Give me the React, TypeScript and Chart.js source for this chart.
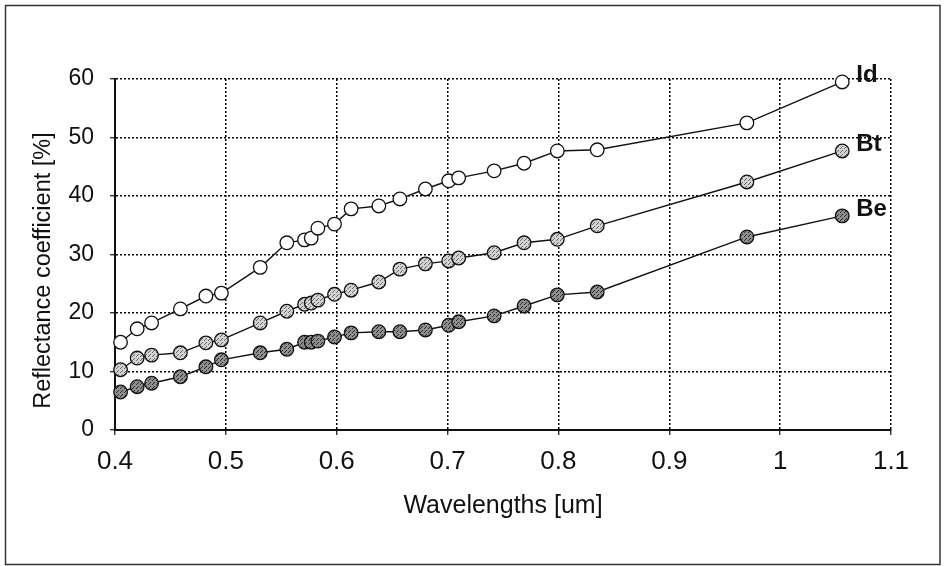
import React, { useEffect, useRef } from "react";
import { Chart, registerables } from "chart.js";

Chart.register(...registerables);

// ---- Data ----
const wavelengths = [
  0.405, 0.42, 0.433, 0.459, 0.482, 0.496, 0.531, 0.555, 0.571, 0.577, 0.583, 0.598,
  0.613, 0.638, 0.657, 0.68, 0.701, 0.71, 0.742, 0.769, 0.799, 0.835, 0.97, 1.056,
];
const idValues = [
  15.0, 17.3, 18.3, 20.7, 22.9, 23.4, 27.8, 32.0, 32.5, 32.8, 34.5, 35.2,
  37.8, 38.3, 39.5, 41.2, 42.6, 43.1, 44.3, 45.6, 47.7, 47.9, 52.5, 59.5,
];
const btValues = [
  10.3, 12.3, 12.8, 13.2, 14.9, 15.4, 18.3, 20.3, 21.5, 21.7, 22.2, 23.2,
  23.9, 25.3, 27.5, 28.4, 28.9, 29.4, 30.3, 32.0, 32.6, 34.9, 42.4, 47.7,
];
const beValues = [
  6.5, 7.4, 8.0, 9.1, 10.8, 12.0, 13.2, 13.8, 15.0, 15.0, 15.2, 15.9,
  16.6, 16.8, 16.8, 17.1, 17.9, 18.5, 19.5, 21.2, 23.1, 23.6, 33.0, 36.6,
];
const seriesLabels = ["Id", "Bt", "Be"];
const xTickValues = [0.4, 0.5, 0.6, 0.7, 0.8, 0.9, 1.0, 1.1];
const yTickValues = [0, 10, 20, 30, 40, 50, 60];
const xTitle = "Wavelengths [um]";
const yTitle = "Reflectance coefficient [%]";

const FONT = "'Liberation Sans', Arial, Helvetica, sans-serif";

function makePattern(ctx: CanvasRenderingContext2D, bg: string, dot: string) {
  const c = document.createElement("canvas");
  c.width = 4;
  c.height = 4;
  const g = c.getContext("2d")!;
  g.fillStyle = bg;
  g.fillRect(0, 0, 4, 4);
  g.fillStyle = dot;
  g.fillRect(0, 0, 1, 1);
  g.fillRect(2, 2, 1, 1);
  g.fillRect(1, 3, 1, 1);
  return ctx.createPattern(c, "repeat") || bg;
}

const annotPlugin = {
  id: "annot",
  afterDraw(chart: any) {
    const ctx: CanvasRenderingContext2D = chart.ctx;
    ctx.save();
    // outer frame
    ctx.strokeStyle = "#333";
    ctx.lineWidth = 1.5;
    ctx.strokeRect(5.5, 5.5, 934.5, 559);

    // y axis title
    const ys = chart.scales.y;
    ctx.save();
    ctx.translate(44, (ys.top + ys.bottom) / 2 + 16);
    ctx.rotate(-Math.PI / 2);
    ctx.font = `23.5px ${FONT}`;
    ctx.fillStyle = "#111";
    ctx.textAlign = "center";
    ctx.textBaseline = "middle";
    ctx.fillText(yTitle, 0, 0);
    ctx.restore();

    // series end labels
    ctx.font = `bold 24px ${FONT}`;
    ctx.fillStyle = "#111";
    ctx.textAlign = "left";
    ctx.textBaseline = "middle";
    chart.data.datasets.forEach((ds: any, i: number) => {
      const meta = chart.getDatasetMeta(i);
      const last = meta.data[meta.data.length - 1];
      if (last) ctx.fillText(ds.label, last.x + 14, last.y - 7);
    });
    ctx.restore();
  },
};

export default function App() {
  const canvasRef = useRef<HTMLCanvasElement | null>(null);

  useEffect(() => {
    const canvas = canvasRef.current!;
    const ctx = canvas.getContext("2d")!;
    const btFill = makePattern(ctx, "#d2d2d2", "#6a6a6a");
    const beFill = makePattern(ctx, "#8e8e8e", "#2e2e2e");
    const toPts = (vals: number[]) => vals.map((v, i) => ({ x: wavelengths[i], y: v }));
    const series = [idValues, btValues, beValues];
    const fills = ["#ffffff", btFill, beFill];

    Chart.defaults.font.family = FONT;

    const chart = new Chart(canvas, {
      type: "line",
      data: {
        datasets: series.map((vals, i) => ({
          label: seriesLabels[i],
          data: toPts(vals),
          borderColor: "#111",
          borderWidth: 1.4,
          pointRadius: 6.8,
          pointBorderWidth: 1.3,
          pointBorderColor: "#111",
          pointBackgroundColor: fills[i] as any,
          backgroundColor: fills[i] as any,
          tension: 0,
          fill: false,
          clip: false as any,
        })),
      },
      options: {
        animation: false,
        responsive: false,
        devicePixelRatio: 1,
        layout: { padding: { left: 0, top: 79, right: 54, bottom: 0 } },
        plugins: { legend: { display: false }, tooltip: { enabled: false } },
        scales: {
          x: {
            type: "linear",
            min: 0.4,
            max: 1.1,
            afterBuildTicks: (s: any) => {
              s.ticks = xTickValues.map((v) => ({ value: v }));
            },
            afterFit: (s: any) => {
              s.height = 136;
            },
            ticks: {
              callback: (v: any) => String(Number(Number(v).toFixed(1))),
              font: { size: 26 },
              color: "#111",
              padding: 11,
              maxRotation: 0,
              autoSkip: false,
            },
            grid: {
              color: "#000",
              lineWidth: 1.5,
              tickLength: 5,
              tickColor: "#111",
              tickWidth: 1.2,
            },
            border: { display: true, color: "#111", width: 2, dash: [2, 2] },
            title: {
              display: true,
              text: xTitle,
              font: { size: 25 },
              color: "#111",
              padding: { top: 0, bottom: 45 },
            },
          },
          y: {
            type: "linear",
            min: 0,
            max: 60,
            afterBuildTicks: (s: any) => {
              s.ticks = yTickValues.map((v) => ({ value: v }));
            },
            afterFit: (s: any) => {
              s.width = 115;
            },
            ticks: {
              font: { size: 23 },
              color: "#111",
              padding: 16,
            },
            grid: {
              color: "#000",
              lineWidth: 1.5,
              tickLength: 5,
              tickColor: "#111",
              tickWidth: 1.2,
            },
            border: { display: true, color: "#111", width: 2, dash: [2, 2] },
          },
        },
      } as any,
      plugins: [annotPlugin],
    });
    return () => chart.destroy();
  }, []);

  return (
    <div style={{ position: "fixed", left: 0, top: 0, width: 945, height: 566, background: "#fff" }}>
      <canvas ref={canvasRef} width={945} height={566} style={{ display: "block" }} />
    </div>
  );
}
